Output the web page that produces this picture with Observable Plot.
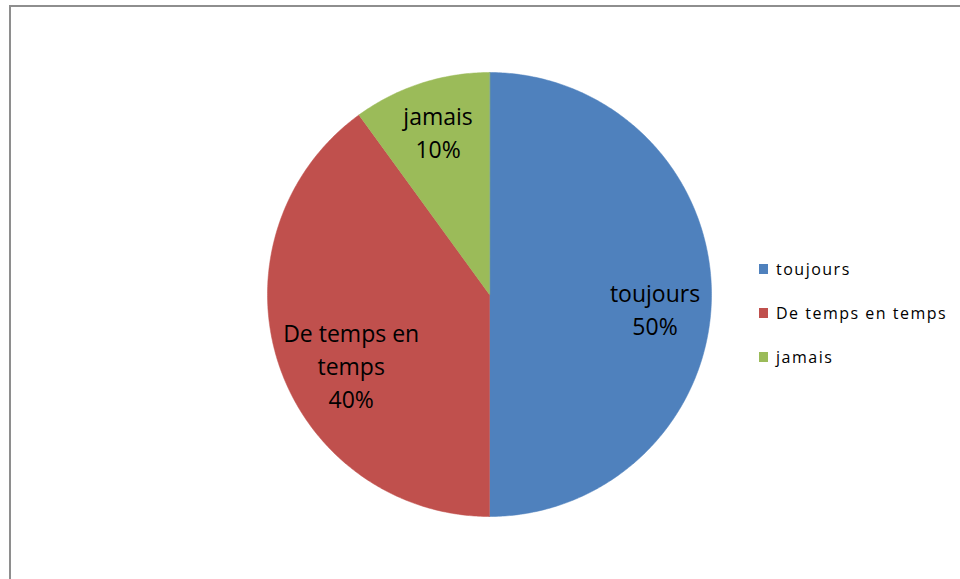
<!DOCTYPE html>
<html>
<head>
<meta charset="utf-8">
<script src="https://cdn.jsdelivr.net/npm/d3@7"></script>
<script src="https://cdn.jsdelivr.net/npm/@observablehq/plot@0.6"></script>
<style>
  html, body { margin: 0; padding: 0; background: #fff; }
  #wrap { position: relative; width: 960px; height: 579px; overflow: hidden; }
  #frame { position: absolute; left: 9px; top: 5px; right: -10px; bottom: -10px;
           border-top: 2px solid #8e8e8e; border-left: 2px solid #8e8e8e; pointer-events: none; }
  #legend { position: absolute; left: 759px; top: 0; font-family: "Open Sans", sans-serif;
            font-size: 16px; letter-spacing: 1.5px; color: #000; }
  .item { position: absolute; left: 0; white-space: nowrap; display: flex; align-items: center; }
  .sw { width: 9px; height: 10px; margin-right: 8px; }
</style>
</head>
<body>
<div id="wrap"><div id="frame"></div><div id="legend"></div></div>
<script>
const categories = ["toujours", "De temps en temps", "jamais"];
const values = [50, 40, 10];
const colors = ["#4f81bd", "#c0504d", "#9bbb59"];
const labelNames = ["toujours", "De temps en\ntemps", "jamais"];

const total = d3.sum(values);
const arcs = d3.pie().sort(null).value(d => d)(values);

// slice outlines (geometric sampling of each arc)
const pts = [];
arcs.forEach((a, i) => {
  const cat = categories[i];
  pts.push({cat, x: 0, y: 0});
  const n = Math.max(2, Math.ceil((a.endAngle - a.startAngle) / 0.01));
  for (let k = 0; k <= n; k++) {
    const t = a.startAngle + (a.endAngle - a.startAngle) * k / n;
    pts.push({cat, x: Math.sin(t), y: Math.cos(t)});
  }
});

const labels = arcs.map((a, i) => {
  const m = (a.startAngle + a.endAngle) / 2;
  return {
    i,
    x: 0.75 * Math.sin(m),
    y: 0.75 * Math.cos(m),
    text: labelNames[i] + "\n" + Math.round(values[i] / total * 100) + "%"
  };
});

const shifts = [[-1, 13.5], [20, 18], [0, -5]];
const textMarks = labels.map((l, i) =>
  Plot.text([l], {x: "x", y: "y", text: "text", dx: shifts[i][0], dy: shifts[i][1],
    fontSize: 23, lineHeight: 1.435, fill: "#000", fontFamily: "Open Sans"}));

const chart = Plot.plot({
  width: 960, height: 579,
  margin: 0,
  x: {domain: [-1, 1], range: [267, 711], axis: null},
  y: {domain: [-1, 1], range: [516, 72], axis: null},
  color: {domain: categories, range: colors},
  style: {background: "transparent", fontFamily: "Open Sans"},
  marks: [
    Plot.line(pts, {x: "x", y: "y", z: "cat", fill: "cat", stroke: "cat", strokeWidth: 0.5, curve: "linear-closed"}),
    ...textMarks
  ]
});
document.getElementById("wrap").prepend(chart);

const legend = document.getElementById("legend");
const tops = [269, 313, 357];
categories.forEach((c, i) => {
  const it = document.createElement("div");
  it.className = "item";
  it.style.top = (tops[i] - 11) + "px";
  it.style.height = "22px";
  const sw = document.createElement("div");
  sw.className = "sw";
  sw.style.background = colors[i];
  const tx = document.createElement("span");
  tx.textContent = c;
  it.append(sw, tx);
  legend.append(it);
});
</script>
</body>
</html>
